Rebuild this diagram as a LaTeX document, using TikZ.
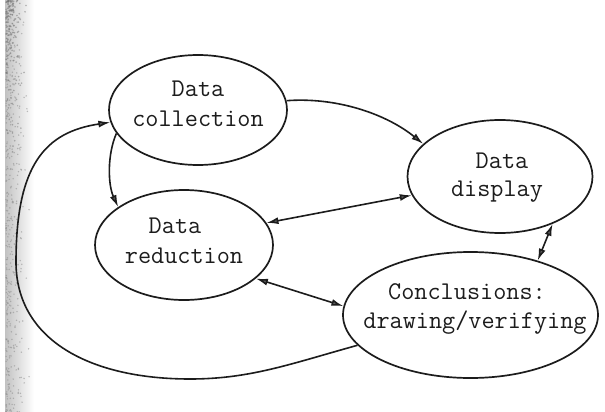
\documentclass[tikz,border=0pt]{standalone}
\usepackage{fontspec}
\usetikzlibrary{shapes.geometric,arrows.meta}

\definecolor{ink}{HTML}{1C1C1C}
\definecolor{tipgray}{HTML}{5E5E5E}

\tikzset{
  bubble/.style={draw=ink, line width=1.7pt, ellipse, inner sep=0pt},
  lbl/.style={font=\ttfamily\fontsize{25.5}{30}\selectfont, text=ink,
              anchor=base, inner sep=0pt},
  link/.style={draw=ink, line width=1.6pt},
  head/.style={-{Latex[length=12pt,width=7pt,fill=tipgray]}},
  twohead/.style={{Latex[length=12pt,width=7pt,fill=tipgray]}-{Latex[length=12pt,width=7pt,fill=tipgray]}}
}

\begin{document}
\begin{tikzpicture}[x=1pt, y=-1pt]
  % page
  \fill[white] (0,0) rectangle (605,412);
  \useasboundingbox (0,0) rectangle (605,412);

  % grey scanned strip along the left edge, speckled more densely near the top
  \shade[left color=black!24, right color=white] (5,0) rectangle (34,412);
  \pgfmathsetseed{42}
  \foreach \k in {1,...,420}{
    \fill[black!45, opacity=0.55] ({6+24*rnd*rnd},{412*rnd}) circle (0.8);
  }
  \foreach \k in {1,...,200}{
    \fill[black!55, opacity=0.5] ({6+22*rnd*rnd},{150*rnd*rnd}) circle (0.9);
  }

  % the four stages
  \node[bubble, minimum width=178pt, minimum height=110pt] (coll) at (198,110) {};
  \node[bubble, minimum width=178pt, minimum height=110pt] (red)  at (184,245) {};
  \node[bubble, minimum width=185pt, minimum height=113pt] (disp) at (500,176.5) {};
  \node[bubble, minimum width=255pt, minimum height=126pt] (conc) at (470.5,315) {};

  % labels
  \node[lbl] (collA) at (198,96)  {Data};
  \node[lbl] (collB) at (198,126) {collection};
  \node[lbl] (redA)  at (175,233) {Data};
  \node[lbl] (redB)  at (184,263) {reduction};
  \node[lbl] (dispA) at (502,168) {Data};
  \node[lbl] (dispB) at (497,196) {display};
  \node[lbl] (concA) at (467,299) {Conclusions:};
  \node[lbl] (concB) at (475,328) {drawing/verifying};

  % flows between stages
  \draw[link, head] (coll.6) .. controls (335,97) and (385,113) .. (disp.157);
  \draw[link, head] (coll.196) .. controls (107,155) and (108,185) .. (red.150);
  \draw[link, twohead] (red.15) -- (disp.192);
  \draw[link, twohead] (red.-25) -- (conc.176);
  \draw[link, twohead] (conc.39) -- (disp.-42);

  % feedback loop back to data collection
  \draw[link, head] (conc.195)
      .. controls (290,364) and (250,379) .. (190,379)
      .. controls (90,379) and (16,340) .. (16,262)
      .. controls (16,165) and (45,132) .. (coll.188);
\end{tikzpicture}
\end{document}
